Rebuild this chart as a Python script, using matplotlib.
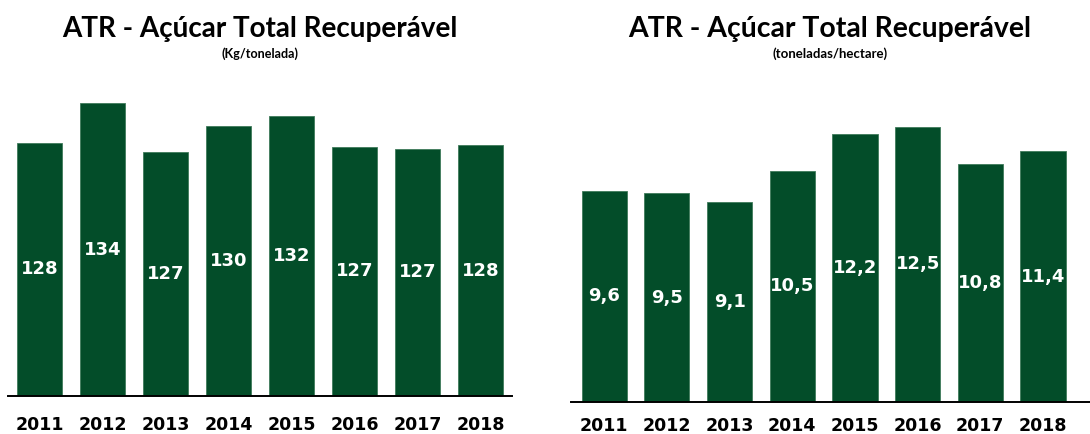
import matplotlib
matplotlib.use("Agg")
import matplotlib.pyplot as plt

# ---- data ----
years = ["2011", "2012", "2013", "2014", "2015", "2016", "2017", "2018"]
atr_kg_t = [128.0, 133.8, 126.6, 130.4, 132.0, 127.4, 127.1, 127.6]
atr_kg_t_labels = ["128", "134", "127", "130", "132", "127", "127", "128"]
atr_t_ha = [9.6, 9.5, 9.1, 10.5, 12.2, 12.5, 10.8, 11.4]
atr_t_ha_labels = ["9,6", "9,5", "9,1", "10,5", "12,2", "12,5", "10,8", "11,4"]

title_text = "ATR - Açúcar Total Recuperável"
sub_left = "(Kg/tonelada)"
sub_right = "(toneladas/hectare)"

GREEN = "#034d29"
W, H = 1090, 434
fig = plt.figure(figsize=(W / 100, H / 100), dpi=100)


def fx(px):
    return px / W


def fy(py):
    return 1 - py / H


# left axes: x 8..512, y 80..396
axL = fig.add_axes([fx(8), fy(396), fx(504), (396 - 80) / H])
axL.set_xlim(-0.5, 7.5)
axL.set_ylim(90.6, 90.6 + 316 / 6.775)
# right axes: x 571..1090, y 80..402
axR = fig.add_axes([fx(571), fy(402), fx(519), (402 - 80) / H])
axR.set_xlim(-0.53, 7.75)
axR.set_ylim(0, 322 / 22.0)

for ax, vals, labs, pad in [(axL, atr_kg_t, atr_kg_t_labels, 14.5),
                            (axR, atr_t_ha, atr_t_ha_labels, 11.0)]:
    x = list(range(len(years)))
    ax.bar(x, vals, width=0.72, color=GREEN, edgecolor="#3f7a5a",
           linewidth=0.6, zorder=2)
    lo = ax.get_ylim()[0]
    for xi, v, lab in zip(x, vals, labs):
        ax.text(xi, (v + lo) / 2, lab, ha="center", va="center",
                color="white", fontsize=13, fontweight="bold",
                family="DejaVu Sans", zorder=3)
    ax.set_xticks(x)
    ax.set_xticklabels(years, fontsize=12.5, fontweight="bold",
                       family="DejaVu Sans")
    ax.tick_params(axis="x", length=0, pad=pad)
    ax.set_yticks([])
    for s in ["top", "right", "left"]:
        ax.spines[s].set_visible(False)
    ax.spines["bottom"].set_linewidth(1.4)
    ax.spines["bottom"].set_color("black")
    ax.spines["bottom"].set_zorder(4)
    ax.patch.set_visible(False)

renderer = fig.canvas.get_renderer()


def fitted_text(cx, baseline_py, s, target_w, size0, **kw):
    t = fig.text(fx(cx), fy(baseline_py), s, ha="center", va="baseline",
                 fontsize=size0, **kw)
    bb = t.get_window_extent(renderer)
    t.set_fontsize(size0 * target_w / bb.width)
    return t


for cx, tw, sub, subw in [(260, 396, sub_left, 78), (830, 402, sub_right, 116)]:
    fitted_text(cx, 37, title_text, tw, 20, fontweight="bold",
                family=["Lato", "DejaVu Sans"], color="black")
    fitted_text(cx, 58, sub, subw, 7, fontweight="bold",
                family=["Lato", "DejaVu Sans"], color="black")

fig.savefig("out.png", dpi=100)
